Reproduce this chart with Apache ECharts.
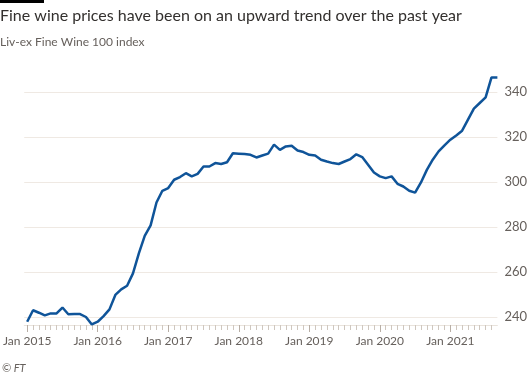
<!DOCTYPE html>
<html><head><meta charset="utf-8">
<script src="https://cdn.jsdelivr.net/npm/echarts@6/dist/echarts.min.js"></script>
<style>html,body{margin:0;padding:0;background:#fff}#c{width:530px;height:378px}</style>
</head><body><div id="c"></div>
<script>
// Monthly index values, Jan 2015 .. Sep 2021
const startYear = 2015;
const values = [
 237.9,243.0,241.9,240.7,241.6,241.6,244.2,241.2,241.3,241.3,240.0,236.7,
 237.9,240.4,243.4,249.8,252.3,253.9,259.4,268.3,276.1,280.7,290.9,296.1,
 297.3,301.0,302.2,303.9,302.5,303.6,306.9,306.9,308.4,308.0,308.8,312.8,
 312.6,312.4,312.1,310.9,311.8,312.6,316.6,314.3,315.8,316.1,314.0,313.3,
 312.1,311.8,309.9,309.1,308.4,308.0,309.1,310.2,312.3,311.1,307.7,304.2,
 302.5,301.7,302.5,299.2,298.0,296.1,295.3,299.8,305.4,309.9,313.6,316.3,
 318.8,320.7,322.8,327.7,332.6,335.1,337.6,346.5,346.5
];
const yTicks = [240, 260, 280, 300, 320, 340];
const title = "Fine wine prices have been on an upward trend over the past year";
const subtitle = "Liv-ex Fine Wine 100 index";
const source = "© FT";

const data = values.map((v, i) => [i, v]);
const monthTicks = [];
for (let i = 0; i < values.length - 1; i++) monthTicks.push(i);
const janTicks = monthTicks.filter(i => i % 12 === 0);

const chart = echarts.init(document.getElementById('c'), null, {renderer: 'canvas'});
const fontFam = 'Lato, "Noto Sans", sans-serif';
chart.setOption({
  animation: false,
  backgroundColor: '#ffffff',
  graphic: [
    {type: 'rect', left: 0, top: 0, shape: {width: 44, height: 3}, style: {fill: '#000'}},
    {type: 'text', left: 0, top: 8, style: {text: title, font: '16px ' + fontFam, fill: '#33302e'}},
    {type: 'text', left: 0, top: 36, style: {text: subtitle, font: '12px ' + fontFam, fill: '#66605c'}},
    {type: 'text', left: 2, top: 363, style: {text: source, font: 'italic 11px ' + fontFam, fill: '#66605c'}}
  ],
  grid: {left: 22, right: 29, top: 92, bottom: 61},
  xAxis: [{
    type: 'value', min: -0.5, max: values.length - 1, offset: 8, position: 'bottom',
    splitLine: {show: false},
    axisLine: {show: true, lineStyle: {color: '#e9e3dc', width: 1}},
    axisTick: {show: true, length: 5, customValues: monthTicks, lineStyle: {color: '#cfc7bf'}},
    axisLabel: {show: true, customValues: janTicks, margin: 10, color: '#66605c', fontSize: 12, fontFamily: fontFam,
      formatter: v => 'Jan ' + (startYear + Math.round(v) / 12)}
  }, {
    type: 'value', min: -0.5, max: values.length - 1, offset: 8, position: 'bottom',
    splitLine: {show: false}, axisLine: {show: false},
    axisTick: {show: true, length: 7, customValues: janTicks, lineStyle: {color: '#b8aea5'}},
    axisLabel: {show: false}
  }],
  yAxis: {
    type: 'value', min: 240, max: 340, interval: 20, position: 'right',
    axisLine: {show: false}, axisTick: {show: false},
    splitLine: {lineStyle: {color: '#efe9e3', width: 1}},
    axisLabel: {margin: 7, color: '#66605c', fontSize: 13, fontFamily: fontFam, align: 'left'}
  },
  series: [{
    type: 'line', data: data, clip: false, symbol: 'none', smooth: false,
    lineStyle: {color: '#0f5499', width: 2.5}
  }]
});
</script></body></html>
